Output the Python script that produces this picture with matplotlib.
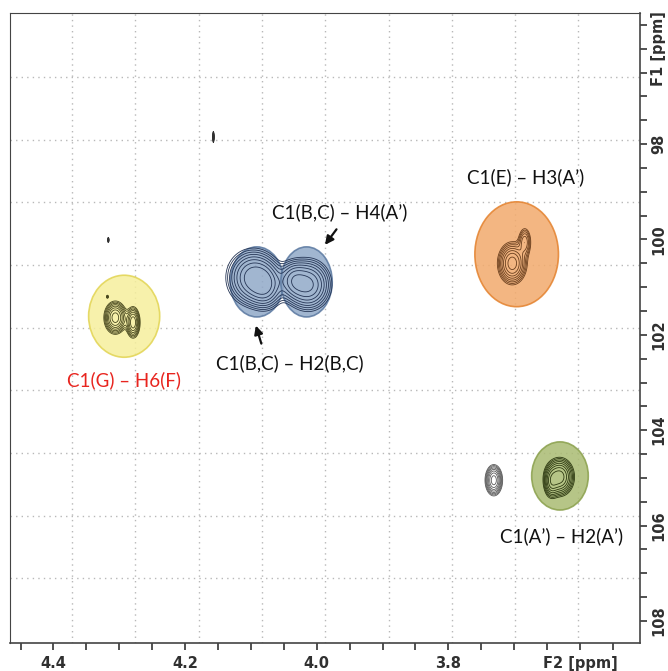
import numpy as np
import matplotlib.pyplot as plt
from matplotlib.patches import Ellipse

# cross peaks as (F2 ppm, F1 ppm, width F2, width F1, height)
peaks_g = [(4.306, 101.64, 0.0085, 0.17, 1.0), (4.279, 101.74, 0.0055, 0.17, 0.8),
           (4.318, 101.20, 0.0012, 0.025, 0.25)]
peaks_bc = [(4.097, 100.80, 0.020, 0.30, 1.0), (4.077, 100.98, 0.014, 0.26, 0.6),
            (4.013, 100.95, 0.018, 0.28, 0.9), (4.036, 100.85, 0.012, 0.22, 0.5)]
peaks_e = [(3.703, 100.50, 0.011, 0.22, 1.0), (3.684, 100.05, 0.0055, 0.17, 0.45)]
peaks_a = [(3.631, 104.98, 0.011, 0.20, 1.0), (3.644, 105.10, 0.006, 0.18, 0.45)]
peaks_other = [(3.731, 105.05, 0.0065, 0.16, 1.0)]
specks = [(4.3167, 100.01, 0.0009, 0.04, 0.3), (4.157, 97.85, 0.0007, 0.07, 0.5)]

f2_labels = ["4.4", "4.2", "4.0", "3.8", "F2 [ppm]"]
f2_label_pos = [4.4, 4.2, 4.0, 3.8, 3.6]
f1_labels = ["F1 [ppm]", "98", "100", "102", "104", "106", "108"]
f1_label_pos = [96, 98, 100, 102, 104, 106, 108]

F2 = np.linspace(3.5, 4.47, 900)
F1 = np.linspace(95.2, 108.5, 900)
X, Y = np.meshgrid(F2, F1)


def spectrum(peaks):
    Z = np.zeros_like(X)
    for x0, y0, wx, wy, h in peaks:
        Z += h * np.exp(-0.5 * ((X - x0) / wx) ** 2 - 0.5 * ((Y - y0) / wy) ** 2)
    return Z


levels = 0.12 * 1.32 ** np.arange(8)

fig = plt.figure(figsize=(6.68, 6.71), dpi=100)
ax = fig.add_axes([0.015, 0.0413, 0.943, 0.9393])
ax.set_xlim(4.466, 3.509)
ax.set_ylim(108.47, 95.25)

# dotted grid on its own spacing
for gx in 4.372 - 0.0962 * np.arange(9):
    ax.axvline(gx, color="#b8b8b8", lw=1, ls=(0, (1, 3)), zorder=0)
for gy in 96.59 + 1.315 * np.arange(9):
    ax.axhline(gy, color="#b8b8b8", lw=1, ls=(0, (1, 3)), zorder=0)

# highlighted regions
regions = [
    ((4.2926, 101.61), 0.108, 1.72, "#f6ef9c", "#e2d452"),
    ((4.091, 100.89), 0.081, 1.47, "#91a9c8", "#5a78a0"),
    ((4.0155, 100.89), 0.078, 1.47, "#91a9c8", "#5a78a0"),
    ((3.6963, 100.31), 0.127, 2.20, "#f2aa6c", "#e4822e"),
    ((3.6305, 104.96), 0.086, 1.43, "#aabb72", "#8aa04c"),
]
for (cx, cy), w, h, fc, ec in regions:
    ax.add_patch(Ellipse((cx, cy), w, h, facecolor=fc, edgecolor=ec,
                         lw=1.2, alpha=0.85, zorder=1))

for peaks, col in [(peaks_g, "#46461c"), (peaks_bc, "#253555"),
                   (peaks_e, "#6a3f1e"), (peaks_a, "#2c3810"),
                   (peaks_other, "#5a5a5a"), (specks, "#303030")]:
    ax.contour(X, Y, spectrum(peaks), levels=levels, colors=col,
               linewidths=0.6, zorder=2)

lab = dict(fontsize=13.5, family="Lato", ha="center", va="center", zorder=3)
ax.text(4.2926, 102.95, "C1(G) – H6(F)", color="#e8251f", **lab)
ax.text(3.9646, 99.43, "C1(B,C) – H4(A’)", color="#111111", **lab)
ax.text(4.0405, 102.59, "C1(B,C) – H2(B,C)", color="#111111", **lab)
ax.text(3.6825, 98.69, "C1(E) – H3(A’)", color="#111111", **lab)
ax.text(3.6275, 106.22, "C1(A’) – H2(A’)", color="#111111", **lab)

arrow = dict(arrowstyle="-|>,head_length=0.5,head_width=0.25", color="#111111", lw=1.6)
ax.annotate("", xy=(3.99, 100.16), xytext=(3.9675, 99.74), arrowprops=arrow, zorder=3)
ax.annotate("", xy=(4.0937, 101.75), xytext=(4.083, 102.24), arrowprops=arrow, zorder=3)

# axes: ticks below and on the right, labels only every 0.2 / 2 ppm
ax.yaxis.tick_right()
ax.set_xticks(f2_label_pos)
ax.set_xticklabels(f2_labels)
ax.set_xticks(np.arange(3.55, 4.47, 0.05), minor=True)
ax.set_yticks(f1_label_pos)
ax.set_yticklabels(f1_labels, rotation=90, va="center")
ax.set_yticks(np.arange(95.5, 108.3, 0.5), minor=True)
ax.tick_params(which="both", length=5, width=1.2, color="#333333")
ax.tick_params(which="major", labelsize=10.5, labelcolor="#303030")
ax.tick_params(axis="x", which="major", pad=4)
ax.tick_params(axis="y", which="major", pad=3)
for t in ax.get_xticklabels() + ax.get_yticklabels():
    t.set_fontweight("bold")
for s in ax.spines.values():
    s.set_color("#444444")
    s.set_linewidth(1.2)
ax.spines["left"].set_linewidth(0.8)
ax.spines["top"].set_linewidth(0.8)

fig.savefig("out.png", dpi=100)
